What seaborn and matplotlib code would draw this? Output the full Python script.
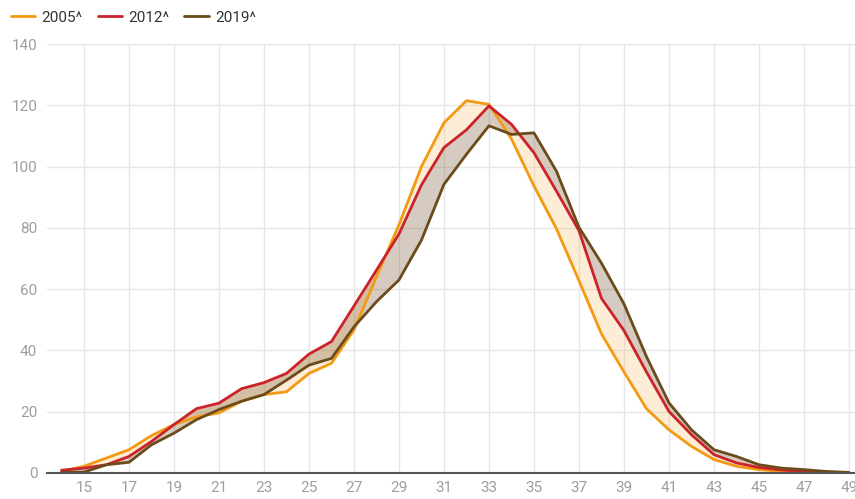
import numpy as np
import pandas as pd
import matplotlib
matplotlib.use('Agg')
import matplotlib.pyplot as plt
import seaborn as sns

# values, one per integer x
ages = list(range(14, 50))
v2005 = [0.5, 2.2, 4.9, 7.6, 12.2, 15.8, 18.3, 19.6, 23.4, 25.6, 26.5, 32.5, 35.8, 46.7, 64, 81, 100, 114.3, 121.5, 120.3,
         109, 93.7, 79.7, 62.8, 45.4, 33, 21, 14.1, 8.7, 4.4, 2.2, 1.1, 0.5, 0.2, 0.1, 0]
v2012 = [0.9, 1.6, 2.7, 5.4, 10.3, 15.8, 21, 22.8, 27.5, 29.5, 32.5, 38.8, 42.9, 54.5, 66.2, 78, 94, 106.2, 112, 119.8,
         113.8, 104.5, 92, 79.1, 57, 46.5, 33, 20.1, 12.5, 6, 3.3, 1.8, 1, 0.5, 0.3, 0]
v2019 = [0.2, 0.3, 2.7, 3.5, 9.2, 13, 17.4, 20.7, 23.4, 25.6, 30.3, 35.2, 37.4, 47.7, 55.9, 63, 76, 94.2, 104, 113.3,
         110.5, 111, 98.5, 80.2, 68.5, 55.2, 38, 22.9, 14.1, 7.6, 5.4, 2.7, 1.6, 1.1, 0.5, 0.2]
labels = ['2005^', '2012^', '2019^']
colors = ['#f39a12', '#cc2229', '#6b4a1c']

df = pd.DataFrame({'x': ages * 3,
                   'y': v2005 + v2012 + v2019,
                   'year': [labels[0]] * len(ages) + [labels[1]] * len(ages) + [labels[2]] * len(ages)})

sns.set_theme(style='white')
plt.rcParams['font.family'] = ['Roboto', 'DejaVu Sans']

fig = plt.figure(figsize=(8.55, 4.99), dpi=100)
ax = fig.add_axes([47 / 855, 26 / 499, 808 / 855, 429 / 499])

ax.fill_between(ages, v2005, v2012, color='#f7b04a', alpha=0.22, linewidth=0, zorder=1)
ax.fill_between(ages, v2012, v2019, color='#7a5530', alpha=0.3, linewidth=0, zorder=1)

sns.lineplot(data=df, x='x', y='y', hue='year', palette=colors, linewidth=2, ax=ax, zorder=3)

ax.set_xlim(13.356, 49.27)
ax.set_ylim(0, 140)
ax.set_xticks(range(15, 50, 2))
ax.set_yticks(range(0, 141, 20))
ax.grid(True, color='#e6e6e6', linewidth=1)
ax.set_axisbelow(True)
for s in ['top', 'right', 'left']:
    ax.spines[s].set_visible(False)
ax.spines['bottom'].set_color('#555555')
ax.spines['bottom'].set_linewidth(1.5)
ax.spines['bottom'].set_zorder(4)
ax.tick_params(axis='both', length=0, labelsize=11, labelcolor='#9e9e9e')
ax.tick_params(axis='x', pad=6)
ax.tick_params(axis='y', pad=7)
ax.set_xlabel('')
ax.set_ylabel('')

h, l = ax.get_legend_handles_labels()
ax.get_legend().remove()
fig.legend(h, l, loc='upper left', bbox_to_anchor=(0.0, 1.0), ncol=3, frameon=False,
           fontsize=11, handlelength=1.6, handletextpad=0.4, columnspacing=1.0,
           labelcolor='#333333', borderaxespad=0.3)

fig.savefig('out.png', dpi=100)
